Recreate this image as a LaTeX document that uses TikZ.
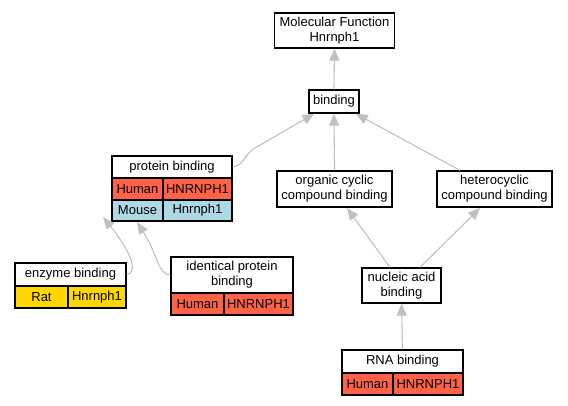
\documentclass[tikz,border=0pt]{standalone}
\usepackage{fontspec}
\setmainfont{Liberation Sans}
\usetikzlibrary{arrows.meta}
\definecolor{human}{HTML}{FF6347}
\definecolor{mouse}{HTML}{ADD8E6}
\definecolor{rat}{HTML}{FFD700}
\definecolor{edgegray}{HTML}{C0C0C0}
\tikzset{
  box/.style={draw=black, line width=1.3pt, fill=white, inner sep=0pt, align=center,
    font=\fontsize{13}{15}\selectfont},
  cell/.style={box},
  link/.style={draw=edgegray, line width=1.1pt, -{Triangle[length=12pt,width=10pt]}},
}
\begin{document}
\begin{tikzpicture}[x=1pt,y=-1pt]
\useasboundingbox (0,0) rectangle (568,405);
% nodes
\node[box, minimum width=120, minimum height=35] (mf) at (334.5,30.5) {Molecular Function\\Hnrnph1};
\node[box, minimum width=50, minimum height=23] (bind) at (334,101.5) {binding};
\node[box, minimum width=115, minimum height=36] (org) at (334.5,189) {organic cyclic\\compound binding};
\node[box, minimum width=115, minimum height=36] (het) at (494.5,189) {heterocyclic\\compound binding};
% protein binding
\node[box, minimum width=120, minimum height=22] (pbt) at (172,167) {protein binding};
\node[cell, fill=human, minimum width=51, minimum height=22] (pbh) at (137.5,189) {Human};
\node[cell, fill=human, minimum width=69, minimum height=22] (pbhg) at (197.5,189) {HNRNPH1};
\node[cell, fill=mouse, minimum width=51, minimum height=21] (pbm) at (137.5,210.5) {Mouse};
\node[cell, fill=mouse, minimum width=69, minimum height=21] (pbmg) at (197.5,210.5) {Hnrnph1};
% identical protein binding
\node[box, minimum width=122, minimum height=36] (ipbt) at (232,275) {identical protein\\binding};
\node[cell, fill=human, minimum width=53, minimum height=22] (ipbh) at (197.5,304) {Human};
\node[cell, fill=human, minimum width=69, minimum height=22] (ipbhg) at (258.5,304) {HNRNPH1};
% enzyme binding
\node[box, minimum width=111, minimum height=23] (ebt) at (70.5,274.5) {enzyme binding};
\node[cell, fill=rat, minimum width=53, minimum height=22] (ebr) at (41.5,297) {Rat};
\node[cell, fill=rat, minimum width=58, minimum height=22] (ebrg) at (97,297) {Hnrnph1};
% nucleic acid binding
\node[box, minimum width=79, minimum height=35] (nab) at (401.5,285.5) {nucleic acid\\binding};
% RNA binding
\node[box, minimum width=121, minimum height=23] (rnat) at (402.5,361.5) {RNA binding};
\node[cell, fill=human, minimum width=51, minimum height=22] (rnah) at (367.5,384) {Human};
\node[cell, fill=human, minimum width=70, minimum height=22] (rnahg) at (428,384) {HNRNPH1};
% edges
\draw[link] (bind.north) -- (mf.south);
\draw[link] (org.north) -- (bind.south);
\draw[link] ([xshift=-34.5]het.north) -- ([xshift=-4]bind.south east);
\draw[link] (pbt.east) .. controls (245,165) and (243,155) .. (255,148) -- ([xshift=6]bind.south west);
\draw[link] (ebt.east) .. controls (140,272) and (128,248) .. (103,217);
\draw[link] (ipbt.west) .. controls (158,275) and (158,255) .. (137,222);
\draw[link] ([xshift=-11.5]nab.north) -- (347,208);
\draw[link] ([xshift=18.5]nab.north) -- (480,208);
\draw[link] (rnat.north) -- (nab.south);
\end{tikzpicture}
\end{document}
